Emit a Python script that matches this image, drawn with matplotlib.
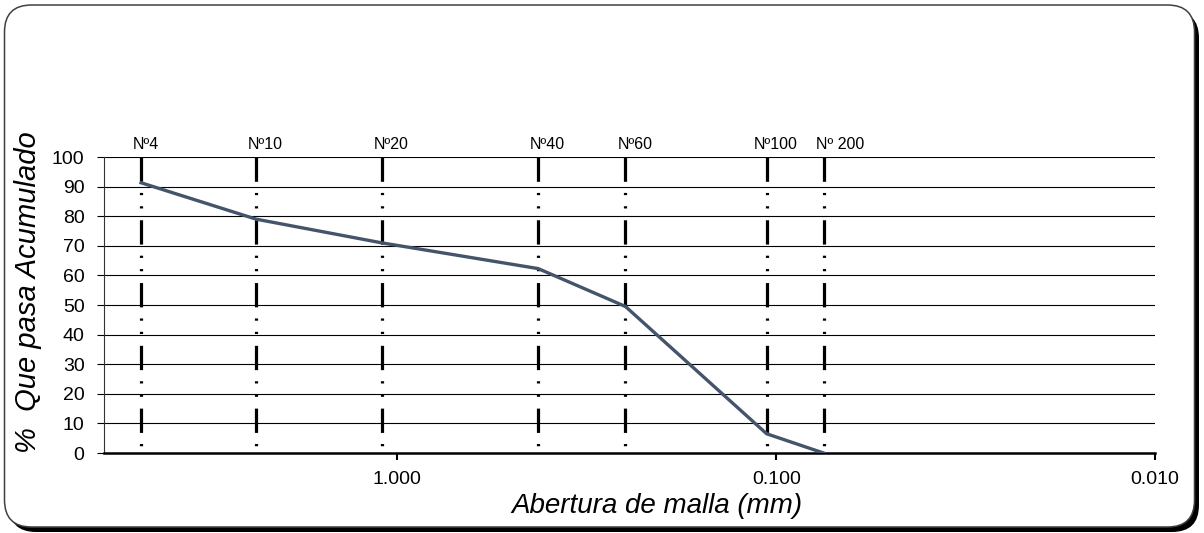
import matplotlib
matplotlib.use("Agg")
import matplotlib.pyplot as plt
from matplotlib.patches import FancyBboxPatch
from matplotlib.transforms import IdentityTransform
from matplotlib.ticker import FixedLocator, FuncFormatter, NullLocator

plt.rcParams['font.family'] = ['Liberation Sans', 'DejaVu Sans']
plt.rcParams['lines.scale_dashes'] = False

# ---- data ----
sieve_labels = ["Nº4", "Nº10", "Nº20", "Nº40", "Nº60", "Nº100", "Nº 200"]
sieve_mm = [4.75, 2.36, 1.10, 0.425, 0.25, 0.106, 0.075]
passing = [91.3, 79.0, 71.0, 62.3, 49.5, 6.5, 0.0]
x_ticks = [1.0, 0.1, 0.01]
y_ticks = [0, 10, 20, 30, 40, 50, 60, 70, 80, 90, 100]
x_limits = (5.95, 0.01)

W, H = 1204, 533
fig = plt.figure(figsize=(W / 100, H / 100), dpi=100)

# rounded frame with shadow (pixel coords, origin bottom-left)
shadow = FancyBboxPatch((9, 1), 1190, 521, boxstyle="round,pad=0,rounding_size=27",
                        transform=IdentityTransform(), facecolor='black', edgecolor='black',
                        linewidth=0, zorder=-2)
frame = FancyBboxPatch((4.5, 6), 1190, 522, boxstyle="round,pad=0,rounding_size=27",
                       transform=IdentityTransform(), facecolor='white', edgecolor='#404040',
                       linewidth=1.1, zorder=-1)
fig.patches.extend([shadow, frame])

ax = fig.add_axes([104 / W, 1 - 453 / H, (1155 - 104) / W, (453 - 157) / H])
ax.set_zorder(1)
ax.set_facecolor('none')
ax.set_xscale('log')
ax.set_xlim(*x_limits)
ax.set_ylim(0, 100)

# horizontal grid
for yv in y_ticks[1:]:
    ax.axhline(yv, color='black', linewidth=0.8, zorder=1)

# vertical sieve lines: dash - dot - dot
for xv, lab in zip(sieve_mm, sieve_labels):
    ax.plot([xv, xv], [100, 0], color='black', linewidth=2.3, solid_capstyle='butt',
            dash_capstyle='butt', dashes=(17.5, 8.0, 1.6, 8.0, 1.6, 8.5), zorder=2,
            clip_on=False)
    off = -13 if lab == "Nº100" else -8
    ax.annotate(lab, xy=(xv, 100), xytext=(off * 0.72, 3.5), textcoords='offset points',
                ha='left', va='bottom', fontsize=11.5, annotation_clip=False)

ax.plot(sieve_mm, passing, color='#44546A', linewidth=2.4, zorder=3, solid_joinstyle='miter')

ax.xaxis.set_major_locator(FixedLocator(x_ticks))
ax.xaxis.set_minor_locator(NullLocator())
ax.xaxis.set_major_formatter(FuncFormatter(lambda v, p: f"{v:.3f}"))
ax.set_yticks(y_ticks)

for s in ['top', 'right']:
    ax.spines[s].set_visible(False)
ax.spines['bottom'].set_linewidth(1.8)
ax.spines['left'].set_linewidth(0.8)
ax.spines['left'].set_color('#333333')

ax.tick_params(axis='x', direction='out', length=5, width=1.5, labelsize=14, pad=8)
ax.tick_params(axis='y', direction='out', length=5, width=0.8, labelsize=14, pad=9)

fig.text(28 / W, 1 - 292 / H, "%  Que pasa Acumulado", rotation=90, style='italic',
         fontsize=21, ha='center', va='center')
fig.text(657 / W, 1 - 506 / H, "Abertura de malla (mm)", style='italic',
         fontsize=20, ha='center', va='center')

fig.savefig('out.png', dpi=100)
